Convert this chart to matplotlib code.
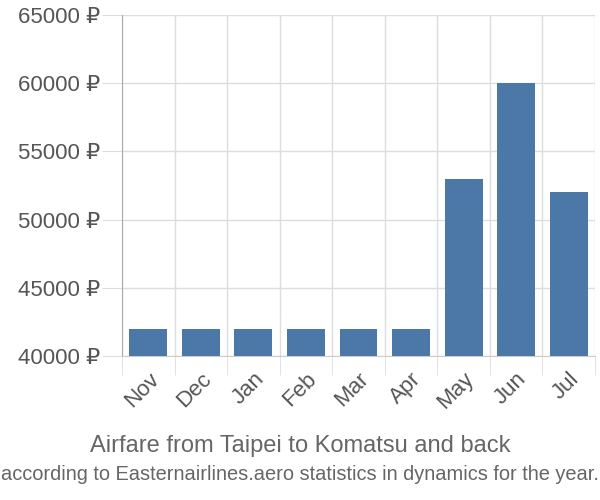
import matplotlib
matplotlib.use("Agg")
import matplotlib.pyplot as plt

plt.rcParams['font.family'] = ['Liberation Sans', 'DejaVu Sans']

months = ["Nov", "Dec", "Jan", "Feb", "Mar", "Apr", "May", "Jun", "Jul"]
prices = [42000, 42000, 42000, 42000, 42000, 42000, 53000, 60000, 52000]
yticks = [40000, 45000, 50000, 55000, 60000, 65000]

fig = plt.figure(figsize=(6, 5), dpi=100)
ax = fig.add_axes([122 / 600, 1 - 356 / 500, 473 / 600, 341 / 500])

x = list(range(len(months)))
ax.bar(x, prices, width=0.72, color="#4c78a8", zorder=3)
ax.set_ylim(40000, 65000)
ax.set_xlim(-0.5, len(months) - 0.5)

ax.set_yticks(yticks)
ax.set_yticklabels([f"{v} ₽" for v in yticks])
ax.set_xticks(x)
ax.set_xticklabels(months, rotation=45, ha="right", rotation_mode="anchor")
ax.set_xticks([i - 0.5 for i in range(len(months) + 1)], minor=True)

# tick lengths in points (px * 0.72 at 100 dpi)
ax.tick_params(axis="y", length=14.5, color="#dddddd", labelsize=16, labelcolor="#555555", pad=1)
ax.tick_params(axis="x", which="major", length=0, labelsize=16, labelcolor="#555555", pad=9)
ax.tick_params(axis="x", which="minor", length=13.7, color="#dddddd")

ax.grid(axis="y", color="#dddddd", linewidth=1, zorder=0)
ax.grid(axis="x", which="minor", color="#dddddd", linewidth=1, zorder=0)

for s in ["top", "right"]:
    ax.spines[s].set_visible(False)
ax.spines["left"].set_color("#aaaaaa")
ax.spines["bottom"].set_color("#cccccc")

fig.text(0.5, 1 - 446 / 500, "Airfare from Taipei to Komatsu and back", ha="center", va="center",
         fontsize=17, color="#666666")
fig.text(0.5, 1 - 474 / 500, "according to Easternairlines.aero statistics in dynamics for the year.",
         ha="center", va="center", fontsize=14.4, color="#666666",
         family=["Liberation Sans Narrow", "Liberation Sans", "DejaVu Sans"])

fig.savefig("out.png", dpi=100)
